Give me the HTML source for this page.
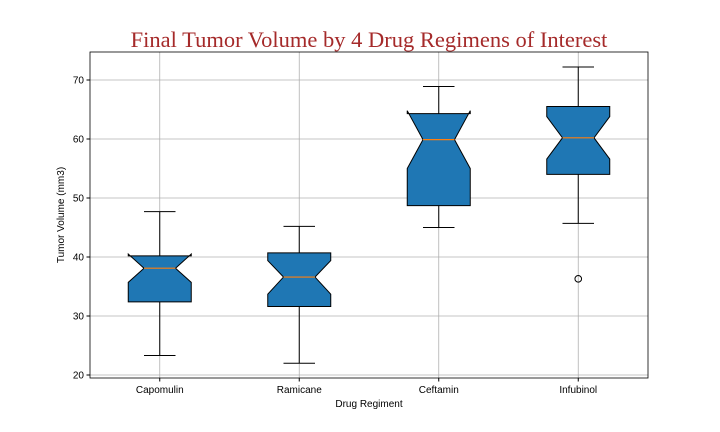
<!DOCTYPE html>
<html><head><meta charset="utf-8"><style>
body{margin:0;background:#fff;}
svg{display:block;font-family:"Liberation Sans",sans-serif;}
</style></head><body>
<svg id="chart" width="720" height="432">
<text x="369" y="47" text-anchor="middle" font-family="Liberation Serif,serif" font-size="22.5" fill="#a52a2a">Final Tumor Volume by 4 Drug Regimens of Interest</text>
<g id="grid"></g><g id="boxes"></g><g id="axes"></g>
<text x="369" y="407" text-anchor="middle" font-size="10">Drug Regiment</text>
<text transform="translate(64,215) rotate(-90)" text-anchor="middle" font-size="10">Tumor Volume (mm3)</text>
</svg>
<script>
const categories=["Capomulin","Ramicane","Ceftamin","Infubinol"];
const mins=[23.3,22.0,45.0,45.7];
const q1s=[32.4,31.6,48.7,54.0];
const medians=[38.1,36.6,59.9,60.2];
const q3s=[40.2,40.7,64.3,65.5];
const maxs=[47.7,45.2,68.9,72.2];
const notchLo=[35.7,33.7,55.0,56.6];
const notchHi=[40.5,39.4,64.8,63.8];
const outliers=[[],[],[],[36.3]];
const yTicks=[20,30,40,50,60,70];
const L=90,R=648,T=52,B=378;
const NS="http://www.w3.org/2000/svg";
const y=v=>375-(v-20)*5.9;
const x=i=>L+(i+0.5)*(R-L)/4;
const bw=63;
function mk(tag,attrs,parent){const e=document.createElementNS(NS,tag);for(const k in attrs)e.setAttribute(k,attrs[k]);document.getElementById(parent).appendChild(e);return e;}
yTicks.forEach(t=>{
 const g=mk("line",{x1:L,x2:R,y1:y(t),y2:y(t),stroke:"#b0b0b0","stroke-width":0.8},"grid");
 
 
 const tk=mk("line",{x1:L-3.5,x2:L,y1:y(t),y2:y(t),stroke:"#000"},"axes");
 
 
 const tx=mk("text",{x:L-6,y:y(t)+3.5,"text-anchor":"end","font-size":10},"axes");
 tx.textContent=t;
 
 
});
categories.forEach((c,i)=>{
 const cx=x(i);
 const gl=mk("line",{x1:cx,x2:cx,y1:T,y2:B,stroke:"#b0b0b0","stroke-width":0.8},"grid");
 
 
 const tk=mk("line",{x1:cx,x2:cx,y1:B,y2:B+3.5,stroke:"#000"},"axes");
 
 
 const tx=mk("text",{x:cx,y:B+15,"text-anchor":"middle","font-size":10},"axes");
 tx.textContent=c;
 
 
 const w1=mk("line",{x1:cx,x2:cx,y1:y(q1s[i]),y2:y(mins[i]),stroke:"#000"},"boxes");
 
 
 const w2=mk("line",{x1:cx,x2:cx,y1:y(q3s[i]),y2:y(maxs[i]),stroke:"#000"},"boxes");
 
 
 [mins[i],maxs[i]].forEach(v=>{
  const cap=mk("line",{x1:cx-bw/4,x2:cx+bw/4,y1:y(v),y2:y(v),stroke:"#000"},"boxes");
  
  
 });
 const l=cx-bw/2,r=cx+bw/2,nl=cx-bw/4,nr=cx+bw/4;
 const pts=[[l,y(q1s[i])],[r,y(q1s[i])],[r,y(notchLo[i])],[nr,y(medians[i])],[r,y(notchHi[i])],[r,y(q3s[i])],[l,y(q3s[i])],[l,y(notchHi[i])],[nl,y(medians[i])],[l,y(notchLo[i])]];
 const p=mk("polygon",{points:pts.map(q=>q.join(",")).join(" "),fill:"#1f77b4",stroke:"#000","stroke-width":1},"boxes");
 
 
 const m=mk("line",{x1:nl,x2:nr,y1:y(medians[i]),y2:y(medians[i]),stroke:"#ff7f0e","stroke-width":1.2},"boxes");
 
 
 outliers[i].forEach(v=>{
  const o=mk("circle",{cx:cx,cy:y(v),r:3.3,fill:"none",stroke:"#000"},"boxes");
  
  
 });
});
const fr=mk("rect",{x:L,y:T,width:R-L,height:B-T,fill:"none",stroke:"#000","stroke-width":0.8},"axes");


</script>
</body></html>
